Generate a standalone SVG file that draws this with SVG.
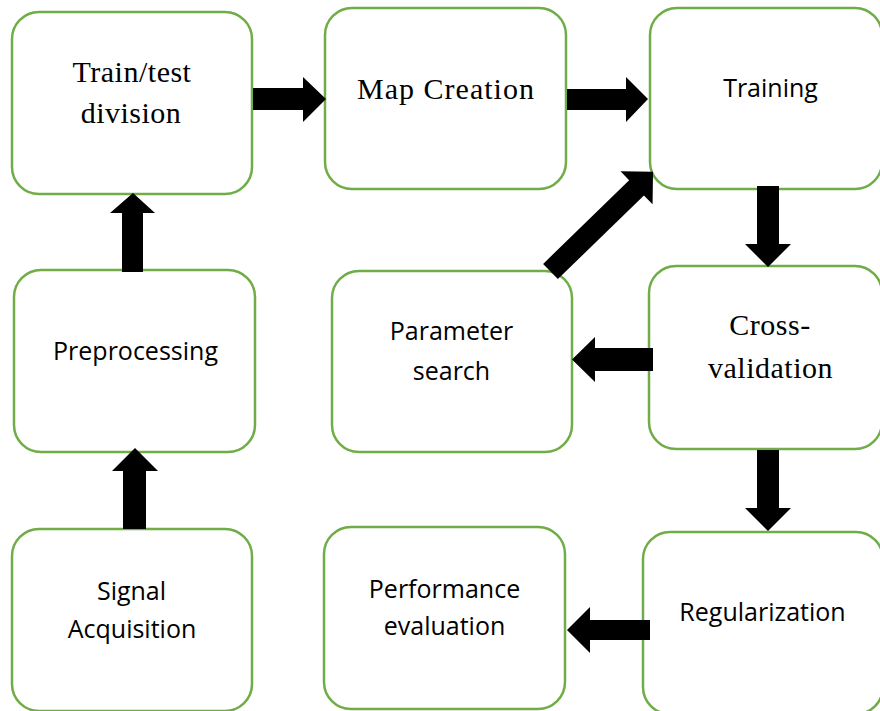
<svg xmlns="http://www.w3.org/2000/svg" width="880" height="711" viewBox="0 0 880 711">
  <style>
    .box { fill: #ffffff; stroke: #70AD47; stroke-width: 2.5; }
    .serif { font-family: "Liberation Serif", "Times New Roman", serif; font-size: 30px; letter-spacing: 0.5px; fill: #000; text-anchor: middle; }
    .wide { letter-spacing: 1px; }
    .sans { font-family: "Open Sans", "Liberation Sans", sans-serif; font-size: 25px; fill: #000; text-anchor: middle; }
    .arrow { fill: #000; }
  </style>

  <rect width="880" height="711" fill="#ffffff"/>

  <g id="train-test">
    <rect class="box" x="12" y="12" width="240" height="182" rx="27"/>
    <text class="serif" x="132" y="82">Train/test</text>
    <text class="serif" x="131" y="123">division</text>
  </g>
  <g id="map-creation">
    <rect class="box" x="325" y="8" width="241" height="181" rx="27"/>
    <text class="serif wide" x="446" y="99">Map Creation</text>
  </g>
  <g id="training">
    <rect class="box" x="650" y="8" width="232" height="181" rx="27"/>
    <text class="sans" x="770.5" y="97">Training</text>
  </g>
  <g id="preprocessing">
    <rect class="box" x="14" y="270" width="241" height="182" rx="27"/>
    <text class="sans" x="135.5" y="360">Preprocessing</text>
  </g>
  <g id="parameter-search">
    <rect class="box" x="332" y="271" width="240" height="181" rx="27"/>
    <text class="sans" x="451.5" y="340">Parameter</text>
    <text class="sans" x="451.5" y="380">search</text>
  </g>
  <g id="cross-validation">
    <rect class="box" x="649" y="266" width="233" height="183" rx="27"/>
    <text class="serif" x="770" y="335">Cross-</text>
    <text class="serif" x="770.5" y="378">validation</text>
  </g>
  <g id="signal-acquisition">
    <rect class="box" x="12" y="529" width="240" height="182" rx="27"/>
    <text class="sans" x="131.5" y="600">Signal</text>
    <text class="sans" x="132" y="638">Acquisition</text>
  </g>
  <g id="performance-evaluation">
    <rect class="box" x="324" y="527" width="241" height="182" rx="27"/>
    <text class="sans" x="444.5" y="598">Performance</text>
    <text class="sans" x="444.5" y="635">evaluation</text>
  </g>
  <g id="regularization">
    <rect class="box" x="643" y="532" width="240" height="182" rx="27"/>
    <text class="sans" x="762.5" y="621">Regularization</text>
  </g>

  <g id="connectors" class="arrow">
    <!-- Train/test -> Map Creation -->
    <polygon points="253,88 303,88 303,77 326,99 303,122 303,110 253,110"/>
    <!-- Map Creation -> Training -->
    <polygon points="567,89 626,89 626,77 648,99 626,122 626,110 567,110"/>
    <!-- Training -> Cross-validation -->
    <polygon points="757,186 779,186 779,244 791,244 768,267 745,244 757,244"/>
    <!-- Cross-validation -> Parameter search -->
    <polygon points="653,348 595,348 595,337 572,359.5 595,382 595,371 653,371"/>
    <!-- Parameter search -> Training (diagonal) -->
    <polygon transform="translate(550.5,271.5) rotate(-44.2)" points="0,-10.6 120,-10.6 120,-23 143,0 120,23 120,10.6 0,10.6"/>
    <!-- Cross-validation -> Regularization -->
    <polygon points="757,450 779,450 779,508 791,508 768,531 745,508 757,508"/>
    <!-- Regularization -> Performance evaluation -->
    <polygon points="650,620 590,620 590,607 567,630 590,653 590,640 650,640"/>
    <!-- Signal Acquisition -> Preprocessing -->
    <polygon points="123,529 123,471 112,471 135,448 158,471 146,471 146,529"/>
    <!-- Preprocessing -> Train/test -->
    <polygon points="122,272 122,213 110,213 133,193 155,213 143,213 143,272"/>
  </g>
</svg>
